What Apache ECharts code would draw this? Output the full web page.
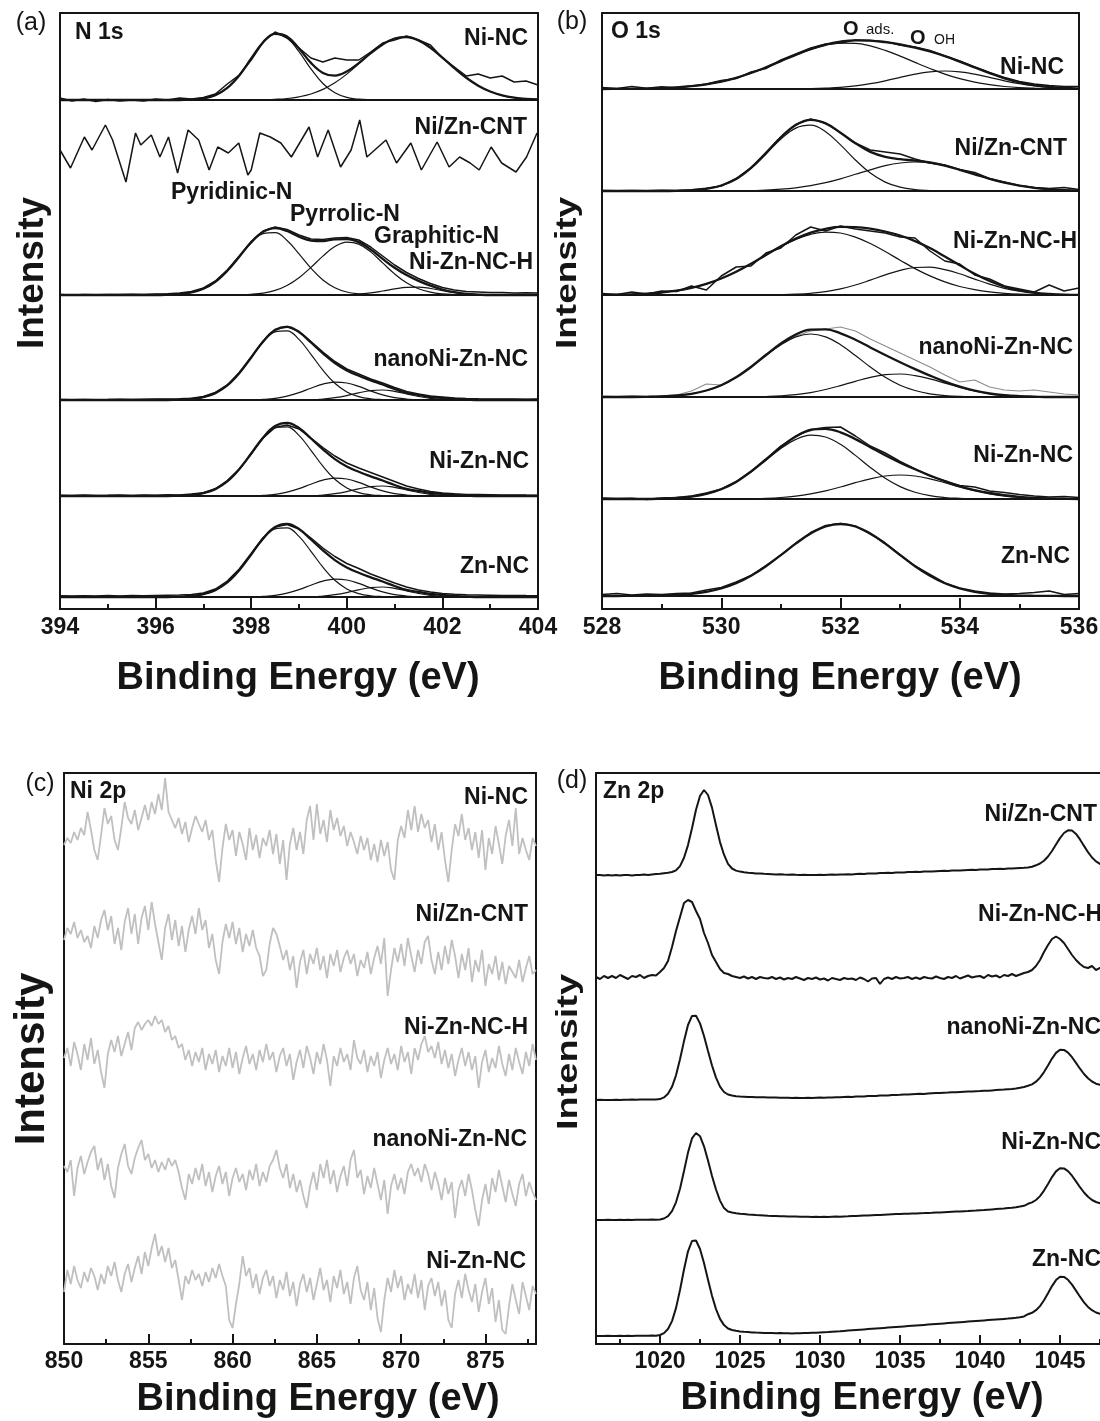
<!DOCTYPE html>
<html><head><meta charset="utf-8">
<script src="https://cdn.jsdelivr.net/npm/echarts@6/dist/echarts.min.js"></script>
<style>html,body{margin:0;padding:0;background:#fff}#chart{width:1100px;height:1421px}</style>
</head><body><div id="chart"></div>
<script>
// ================= DATA =================
// ---- (a) N 1s ----
const A_ENERGY = [394,394.25,394.5,394.75,395,395.25,395.5,395.75,396,396.25,396.5,396.75,397,397.25,397.5,397.75,398,398.25,398.5,398.75,399,399.25,399.5,399.75,400,400.25,400.5,400.75,401,401.25,401.5,401.75,402,402.25,402.5,402.75,403,403.25,403.5,403.75,404];
const A_NINC_RAW = [2,-1,1,-1.5, 0.5,-1,0,-1, 1,0,2,1, 2.5,6,16,25, 40,58,68,62, 52,42,38,42, 40,40,48,57, 60,64,60,55, 42,33,24,26, 22,24,18,19, 15];
const A_NINC_FIT = [0,0,0,0, 0,0,0,0, 0,0,0,0.5, 1.6,4.9,12.1,24.6, 41.5,57.8,66.4,63.6, 51.5,37.1,27.1,24.4, 28.5,36.9,46.8,55.6, 61.5,63,59.6,52.3, 42.4,31.9,22.2,14.3, 8.5,4.7,2.4,1.1, 0.5];
const A_NINC_C1 = [0,0,0,0, 0,0,0,0, 0,0,0,0.5, 1.6,4.9,12.1,24.6, 41.4,57.5,65.7,62.1, 48.3,31.1,16.5,7.2, 2.6,0.8,0.2,0, 0,0,0,0, 0,0,0,0, 0,0,0,0, 0];
const A_NINC_C2 = [0,0,0,0, 0,0,0,0, 0,0,0,0, 0,0,0,0, 0.1,0.3,0.7,1.5, 3.2,6.0,10.6,17.2, 25.9,36.1,46.6,55.6, 61.5,63,59.6,52.3, 42.4,31.9,22.2,14.3, 8.5,4.7,2.4,1.1, 0.5];
const A_CNT_E = [394.0,394.22,394.51,394.67,394.95,395.10,395.38,395.58,395.69,395.91,396.09,396.27,396.46,396.68,396.90,397.12,397.30,397.52,397.74,397.93,398.0,398.18,398.40,398.62,398.84,399.21,399.39,399.61,399.87,400.09,400.27,400.42,400.82,401.04,401.34,401.56,401.89,402.14,402.36,402.58,402.77,403.02,403.24,403.54,403.76,403.98];
const A_CNT_V = [40,22,53,40,65,50,8,57,45,55, 33,53,17,60,50,20,43,37,47,15, 20,57,53,47,33,63,33,60,23,40, 70,33,50,27,47,20,48,23,33,27, 20,43,27,18,33,57];
const A_H_RAW = [0.5,0,0.5,0.3, 0.6,0.4,0.8,0.6, 1,1.2,2,3.5, 7,14,25,39, 53.5,64,68,65.5, 60,56,55.5,57, 57.5,55,48,39, 30,22.5,16.5,11.5, 7.5,5,3.5,3, 2.5,2.5,2,2.2, 2];
const A_H_FIT = [0,0,0,0, 0,0,0,0, 0,0.3,0.9,2.5, 6.2,13.2,24.2,38.2, 52.8,63.2,66.9,64.0, 58.3,54.4,53.9,55.7, 55.9,52.9,45.5,36.1, 27.2,19.9,14.1,9.3, 5.5,2.8,1.1,0.4, 0,0,0,0, 0];
const A_H_PYRIDINIC = [0,0,0,0, 0,0,0,0, 0,0.3,0.9,2.5, 6.2,13.2,24.2,38.2, 52.1,61.3,62.3,54.5, 41.1,26.8,15.0,7.3, 3.0,1.1,0.3,0, 0,0,0,0, 0,0,0,0, 0,0,0,0, 0];
const A_H_PYRROLIC = [0,0,0,0, 0,0,0,0, 0,0,0,0, 0,0,0,0.3, 0.7,1.9,4.6,9.5, 17.2,27.6,38.9,48.4, 52.9,50.9,43.1,32.1, 21.1,12.2,6.2,2.8, 1.1,0.4,0,0, 0,0,0,0, 0];
const A_H_GRAPHITIC = [0,0,0,0, 0,0,0,0, 0,0,0,0, 0,0,0,0, 0,0,0,0, 0,0,0,0, 0,0.9,2.1,4.0, 6.1,7.7,7.9,6.5, 4.4,2.4,1.1,0.4, 0,0,0,0, 0];
const A_FIT_MAIN = [0,0,0,0, 0,0,0,0, 0,0,0.3,1.0, 2.8,6.9,14.6,26.8, 42.5,58.0,68.2,69.2, 60.6,45.7,29.8,16.7, 8.1,3.4,1.2,0.4, 0,0,0,0, 0,0,0,0, 0,0,0,0, 0];
const A_FIT_C2 = [0,0,0,0, 0,0,0,0, 0,0,0,0, 0,0,0,0, 0,0.6,1.7,3.9, 7.4,11.8,15.9,17.9, 17.0,13.6,9.1,5.1, 2.4,1.0,0,0, 0,0,0,0, 0,0,0,0, 0];
const A_FIT_C3 = [0,0,0,0, 0,0,0,0, 0,0,0,0, 0,0,0,0, 0,0,0,0, 0,0,0.9,2.3, 4.4,7.2,9.4,10.0, 8.6,6.1,3.5,1.6, 0.6,0,0,0, 0,0,0,0, 0];
const A_FIT_ENV = [0,0,0,0, 0,0,0,0, 0,0,0.3,1.0, 2.8,6.9,14.6,26.8, 42.5,58.6,69.9,73.1, 68.0,57.5,46.6,36.9, 29.5,24.2,19.7,15.5, 11.0,7.1,5.0,3.0, 2.0,1.0,0.5,0, 0,0,0,0, 0];
const A_NANO_RAW = [0.5,0.2,0.6,0.3, 0.5,0.8,0.4,0.7, 0.9,1.0,1.2,1.8, 3.5,7.5,15,27.5, 43,59,70.5,73.5, 68.5,58.5,48,38.5, 31,26,21,17, 12.5,8.5,6,4, 3,2,1.5,1.2, 1,0.9,1,0.8, 1];
const A_NIZN_RAW = [0.8,0.4,0.9,0.5, 0.7,1.0,0.6,1.1, 0.8,1.2,1.1,1.9, 3.2,7.2,15.5,27, 42,58,68.5,71, 67,58,48.5,40, 33,28,23.5,19, 14.5,10,7,4.5, 3,2.2,1.6,1.4, 1.2,1,1.1,0.9, 0.8];
const A_ZN_RAW = [1.2,0.9,1.3,1.0, 1.4,1.1,1.5,1.2, 1.6,1.8,2.0,2.5, 4,8,16,28, 43.5,59.5,70,72.5, 68,59,49,40.5, 33.5,28.5,23,18.5, 14,10,7,5, 3.5,2.8,2.2,2, 1.8,1.5,1.6,1.4, 1.3];

// ---- (b) O 1s ----
const B_ENERGY = [528,528.25,528.5,528.75,529,529.25,529.5,529.75,530,530.25,530.5,530.75,531,531.25,531.5,531.75,532,532.25,532.5,532.75,533,533.25,533.5,533.75,534,534.25,534.5,534.75,535,535.25,535.5,535.75,536];
const B_NINC_RAW = [1.5,0.5,2.5,0.8, 2.2,1.0,3,5, 8.5,10.5,17,20.5, 29,35,41,45, 46,49,48.5,47.5, 44,42,38.5,33, 28,22,16.5,11.5, 7.5,5,3.5,2.5, 2.5];
const B_NINC_ENV = [0,0.1,0.2,0.4, 0.9,1.6,2.8,4.7, 7.4,11.2,16.0,21.7, 27.9,34.1,39.9,44.5, 47.4,48.7,48.4,46.8, 44.5,41.4,37.6,32.9, 27.4,21.6,15.9,10.7, 6.7,3.9,2.0,1.0, 0.4];
const B_NINC_OADS = [0,0.1,0.2,0.4, 0.9,1.6,2.8,4.7, 7.4,11.2,16.0,21.7, 27.9,34.1,39.6,43.7, 45.8,45.6,43.1,38.6, 32.9,26.6,20.5,14.9, 10.3,6.8,4.3,2.5, 1.4,0.8,0.4,0.2, 0.1];
const B_NINC_OH = [0,0,0,0, 0,0,0,0, 0,0,0,0, 0,0,0.3,0.8, 1.6,3.1,5.3,8.2, 11.6,14.8,17.1,18.0, 17.1,14.8,11.6,8.2, 5.3,3.1,1.6,0.8, 0.3];
const B_CNT_RAW = [0.5,0.2,0.6,0.3, 0.8,0.6,1.2,2.8, 5,12.5,23.5,38.5, 54,66.5,72,68, 58,48,41,39, 37,32,28,26, 21.5,18.5,12.5,9, 5.5,3.5,2.5,3.5, 1.5];
const B_CNT_ENV = [0,0,0,0, 0,0.2,0.7,2.2, 5.5,12.0,23.1,37.9, 53.7,66.1,71.1,67.6, 58.3,47.7,39.1,34.2, 31.8,30.4,28.5,25.3, 21.2,16.7,12.2,8.3, 5.3,3.2,1.8,0.9, 0.4];
const B_CNT_OADS = [0,0,0,0, 0,0.2,0.7,2.2, 5.5,12.0,22.7,37.0, 51.9,62.9,65.8,59.3, 46.1,31.0,17.9,8.9, 3.8,1.4,0.5,0, 0,0,0,0, 0,0,0,0, 0];
const B_CNT_OH = [0,0,0,0, 0,0,0,0, 0,0,0.4,0.9, 1.8,3.2,5.3,8.3, 12.2,16.7,21.2,25.3, 28.0,29.0,28.0,25.3, 21.2,16.7,12.2,8.3, 5.3,3.2,1.8,0.9, 0.4];
const B_H_RAW = [1.5,0.5,3,1, 4,3.5,9,5, 19,28,29,42, 47,60,68,64, 69,66,64,62, 58,57,44,34, 31,20,16,9, 6,3,10,4, 7];
const B_H_ENV = [0.2,0.3,0.7,1.3, 2.5,4.3,7.1,11.1, 16.5,23.3,31.3,40.0, 48.7,56.4,62.4,66.2, 68.1,67.9,66.4,63.5, 59.5,53.9,46.9,38.5, 29.7,21.2,14.0,8.4, 4.7,2.4,1.1,0.4, 0.2];
const B_H_OADS = [0.2,0.3,0.7,1.3, 2.5,4.3,7.1,11.1, 16.5,23.3,31.3,40.0, 48.4,55.6,60.7,62.9, 62.0,57.9,51.5,43.4, 34.8,26.4,19.1,13.1, 8.5,5.3,3.1,1.7, 0.9,0.5,0.2,0, 0];
const B_H_OH = [0,0,0,0, 0,0,0,0, 0,0,0,0, 0.3,0.8,1.7,3.3, 6.1,10.0,14.9,20.1, 24.7,27.5,27.8,25.4, 21.2,15.9,10.9,6.7, 3.8,1.9,0.9,0.4, 0.2];
const B_NANO_RAW = [1,0.5,1.5,0.8, 1.2,2,6,13, 12,20,31,43, 52,61,66,68, 70,66,58,51, 44,37,30,22, 15,17,10,7, 6,7,5,3, 2];
const B_NANO_ENV = [0,0,0,0.2, 0.6,1.5,3.2,6.5, 11.8,19.7,30.0,42.0, 53.5,62.5,67.4,67.6, 63.7,57.2,49.6,42.0, 34.8,27.9,21.4,15.4, 10.3,6.3,3.5,1.8, 0.9,0.4,0,0, 0];
const B_NANO_OADS = [0,0,0,0.2, 0.6,1.5,3.2,6.5, 11.8,19.7,30.0,41.5, 52.3,60.1,63.0,60.1, 52.3,41.5,30.0,19.7, 11.8,6.5,3.2,1.5, 0.6,0.2,0,0, 0,0,0,0, 0];
const B_NANO_OH = [0,0,0,0, 0,0,0,0, 0,0,0,0.5, 1.2,2.4,4.4,7.5, 11.4,15.7,19.6,22.3, 23.0,21.4,18.2,13.9, 9.7,6.1,3.5,1.8, 0.9,0.4,0,0, 0];
const B_NIZN_RAW = [1,0.5,0.8,-0.5, 1,1.5,3,6, 10,17.5,28,40, 53,63,69.5,71.5, 72,63,53,46, 37.5,30,23,18, 13.5,12,8,6.5, 4.5,3,2,2.5, 1.5];
const B_NIZN_ENV = [0,0,0,0, 0.4,1.0,2.4,5.1, 9.8,17.1,27.4,39.5, 52.0,62.5,69.0,70.1, 66.7,59.9,51.8,43.8, 36.4,29.7,23.5,17.8, 12.6,9.0,6.0,3.8, 2.2,1.2,0.6,0.3, 0];
const B_NIZN_OADS = [0,0,0,0, 0.4,1.0,2.4,5.1, 9.8,17.1,27.1,38.8, 50.5,59.6,63.9,62.0, 54.7,43.6,31.6,20.8, 12.4,6.7,3.3,1.5, 0.6,0,0,0, 0,0,0,0, 0];
const B_NIZN_OH = [0,0,0,0, 0,0,0,0, 0,0,0.3,0.7, 1.5,2.9,5.1,8.1, 12.0,16.3,20.2,23.0, 24.0,23.0,20.2,16.3, 12.0,8.1,5.1,2.9, 1.5,0.7,0.3,0, 0];
const B_ZN_RAW = [1.5,2.5,1,2, 1.5,2.5,3,6, 8.5,14,20.5,30.5, 41,53,63.5,70.5, 72.5,70,62,53, 41.5,30,21.5,13, 8,5,3,2, 2.5,3.5,5,1.5, 2.5];
const B_ZN_FIT = [0,0,0.1,0.2, 0.4,1.0,2.1,4.1, 7.5,12.7,20.2,29.7, 40.9,52.4,62.5,69.5, 72.0,69.5,62.5,52.4, 40.9,29.7,20.2,12.7, 7.5,4.1,2.1,1.0, 0.4,0.2,0.1,0, 0];

// ---- (c) Ni 2p ----
const C_ENERGY = [850,850.2,850.4,850.6,850.8,851,851.2,851.4,851.6,851.8,852,852.2,852.4,852.6,852.8,853,853.2,853.4,853.6,853.8,854,854.2,854.4,854.6,854.8,855,855.2,855.4,855.6,855.8,856,856.2,856.4,856.6,856.8,857,857.2,857.4,857.6,857.8,858,858.2,858.4,858.6,858.8,859,859.2,859.4,859.6,859.8,860,860.2,860.4,860.6,860.8,861,861.2,861.4,861.6,861.8,862,862.2,862.4,862.6,862.8,863,863.2,863.4,863.6,863.8,864,864.2,864.4,864.6,864.8,865,865.2,865.4,865.6,865.8,866,866.2,866.4,866.6,866.8,867,867.2,867.4,867.6,867.8,868,868.2,868.4,868.6,868.8,869,869.2,869.4,869.6,869.8,870,870.2,870.4,870.6,870.8,871,871.2,871.4,871.6,871.8,872,872.2,872.4,872.6,872.8,873,873.2,873.4,873.6,873.8,874,874.2,874.4,874.6,874.8,875,875.2,875.4,875.6,875.8,876,876.2,876.4,876.6,876.8,877,877.2,877.4,877.6,877.8,878];
const C_NINC = [45,52,47,58,50, 62,55,78,60,40, 30,55,82,66,74, 50,40,62,88,72, 66,80,60,72,85, 70,88,76,96,80, 112,78,70,62,72, 56,68,48,62,74, 66,58,70,50,60, 30,8,42,66,50, 60,34,58,46,30, 62,40,55,32,52, 44,60,36,56,26, 50,10,46,62,40, 58,36,70,84,50, 86,56,70,48,80, 60,72,54,64,44, 58,48,36,54,40, 52,30,46,28,50, 34,48,20,10,50, 64,52,80,60,84, 58,76,62,70,48, 66,40,58,30,8, 40,66,54,76,50, 62,40,58,32,60, 20,52,36,64,46, 26,54,70,44,82, 36,52,40,30,52, 44];
const C_CNT = [60,72,66,78,62, 70,58,64,52,74, 62,80,90,70,84, 56,72,50,78,92, 66,86,56,82,94, 70,98,76,58,40, 72,86,60,80,54, 74,48,70,84,66, 92,70,80,52,66, 40,26,58,76,62, 78,56,72,48,66, 54,70,52,44,24, 30,56,72,66,54, 40,50,30,44,12, 38,50,26,46,36, 52,30,44,22,46, 34,50,28,42,50, 36,46,24,40,32, 48,26,42,54,36, 62,4,30,52,38, 56,34,62,44,28, 50,36,58,64,40, 26,48,30,54,36, 60,44,22,46,30, 52,18,40,28,50, 14,36,26,44,20, 38,16,34,28,22, 40,18,32,44,26, 30];
const C_H = [52,62,44,68,56, 40,66,50,72,46, 60,38,22,56,70, 58,74,54,66,78, 60,82,88,80,86, 90,84,94,86,90, 78,84,70,74,62, 66,50,60,44,58, 48,62,40,56,46, 60,38,54,44,62, 42,58,36,52,64, 46,56,40,60,48, 66,50,58,38,54, 62,44,56,30,48, 60,42,64,52,36, 58,46,66,50,24, 54,44,62,48,56, 40,70,52,46,60, 38,54,44,58,32, 50,62,46,56,40, 64,48,58,36,62, 50,66,74,58,64, 52,68,46,60,42, 56,34,50,62,44, 58,40,54,22,48, 60,38,52,42,64, 46,34,56,40,62, 48,36,58,44,66, 50];
const C_NANO = [64,58,70,34,62, 74,56,68,78,84, 60,72,50,66,44, 32,62,76,86,64, 56,72,82,90,70, 76,62,70,58,68, 60,72,64,70,58, 42,30,56,46,62, 50,66,44,58,38, 54,64,46,58,34, 52,62,48,56,40, 60,50,66,44,58, 48,64,70,80,62, 52,66,42,56,38, 50,34,22,44,58, 40,66,52,70,46, 60,38,54,64,44, 70,80,52,60,36, 54,42,62,46,30, 50,16,44,56,40, 52,36,58,66,54, 62,48,66,56,40, 58,46,30,52,36, 48,12,40,50,34, 56,40,20,4,30, 46,26,52,38,60, 44,28,50,36,24, 46,56,34,48,38, 30];
const C_NIZN = [48,70,56,74,60, 52,68,58,72,64, 50,66,56,74,64, 78,60,48,66,76, 58,72,84,66,88, 74,92,106,84,94, 78,92,72,80,60, 40,64,56,70,60, 66,54,68,58,72, 62,76,64,54,20, 12,36,56,84,64, 72,52,66,46,62, 70,54,64,42,60, 50,68,44,58,34, 56,66,48,62,40, 56,72,50,60,38, 64,52,70,46,58, 36,62,74,50,40, 58,30,52,22,8, 40,62,48,70,52, 64,40,56,46,66, 42,60,30,54,62, 44,58,34,50,20, 12,46,60,42,66, 50,38,56,28,48, 62,36,52,18,40, 10,6,34,56,40, 26,58,44,30,54, 46];

// ---- (d) Zn 2p ----
const D_ENERGY = [1016,1016.25,1016.5,1016.75,1017,1017.25,1017.5,1017.75,1018,1018.25,1018.5,1018.75,1019,1019.25,1019.5,1019.75,1020,1020.25,1020.5,1020.75,1021,1021.25,1021.5,1021.75,1022,1022.25,1022.5,1022.75,1023,1023.25,1023.5,1023.75,1024,1024.25,1024.5,1024.75,1025,1025.25,1025.5,1025.75,1026,1026.25,1026.5,1026.75,1027,1027.25,1027.5,1027.75,1028,1028.25,1028.5,1028.75,1029,1029.25,1029.5,1029.75,1030,1030.25,1030.5,1030.75,1031,1031.25,1031.5,1031.75,1032,1032.25,1032.5,1032.75,1033,1033.25,1033.5,1033.75,1034,1034.25,1034.5,1034.75,1035,1035.25,1035.5,1035.75,1036,1036.25,1036.5,1036.75,1037,1037.25,1037.5,1037.75,1038,1038.25,1038.5,1038.75,1039,1039.25,1039.5,1039.75,1040,1040.25,1040.5,1040.75,1041,1041.25,1041.5,1041.75,1042,1042.25,1042.5,1042.75,1043,1043.25,1043.5,1043.75,1044,1044.25,1044.5,1044.75,1045,1045.25,1045.5,1045.75,1046,1046.25,1046.5,1046.75,1047,1047.25,1047.5,1047.75,1048];
const D_CNT = [5,5,4.5,5, 4.5,5,4.5,5, 5,4.5,5,5, 5.5,5,5.5,6, 6.3,6.8,7.2,8.0, 9.7,13.9,22.3,34.9, 51.7,70.2,84.0,90, 85.0,72.4,54.7,37.9, 25.3,16.1,11.5,9.4, 8.4,7.7,7.3,7.0, 6.6,6.5,6.2,6.0, 5.8,5.6,5.7,5.4, 5.3,5.5,5.2,5.0, 5.2,4.9,5.1,5.0, 5.2,5.0,5.3,5.4, 5.2,5.6,5.5,5.8, 5.6,6.0,6.2,6.0, 6.4,6.6,6.5,6.9, 7.0,7.2,7.0,7.5, 7.6,7.4,7.9,8.0, 8.2,8.0,8.5,8.6, 8.4,8.8,9.0,9.2, 9.0,9.5,9.6,9.4, 9.8,10.0,10.2,10.0, 10.4,10.6,10.5,10.9, 11.0,11.2,11.0,11.5, 11.6,11.8,12.0,12.2, 12.6,13.2,14.7,16.5, 19.3,23.5,29.0,35.5, 41.9,47.0,49.7,49.4, 46.1,40.6,34.1,27.8, 22.5,18.6,16.0,14.5, 13.8];
const D_H = [8,6,9,7, 9,7,10,8, 6,9,8,10, 7,9,10,9.5, 13,17,24,38, 54,68,82,85, 83,74,66,52, 42,30,23,16, 12,11,9,8, 7,8.5,6.5,8, 6,8,7,6.5, 8,6,7.5,5.5, 7,6,8,6.5, 5,7,6,7.5, 5.5,6.5,4.5,7, 6,5,7,6, 6.5,5,7.5,6, 3.5,6.5,7,1, 6,7.5,6,8, 6.5,7,8,6, 7.5,6,8,7, 6.5,8.5,7,6, 8,7,9,6.5, 8,9.5,7.5,8.5, 9,7,10,8.5, 9.5,7.5,10,9, 11,9,10.5,12, 13,15,19,25, 33,40,46,48.5, 46,42,36,30, 25,21,18,17, 19,15,17,15, 14];
const D_NANO = [5,5.2,4.9,5.1, 5,5.2,5.1,5.3, 5.2,5.4,5.3,5.5, 5.4,5.6,5.5,5.6, 5.9,7.6,11.2,18.2, 29.7,45.7,63.9,80, 89.1,89.2,81.6,69, 54,39.5,27.4,18.4, 13,10.5,9.5,8.8, 8.4,8.2,8.0,7.9, 7.8,7.7,7.7,7.5, 7.4,7.5,7.3,7.2, 7.3,7.1,7.2,7.0, 7.1,7.2,7.0,7.3, 7.4,7.3,7.6,7.5, 7.8,7.7,8.0,8.2, 8.1,8.4,8.6,8.5, 8.9,9.1,9.0,9.4, 9.6,9.5,9.9,10.1, 10.2,10.5,10.4,10.8, 11.0,11.2,11.1,11.5, 11.8,12.0,11.9,12.3, 12.5,12.8,12.7,13.0, 13.3,13.5,13.4,13.8, 14.0,14.3,14.2,14.6, 14.9,15.2,15.4,15.8, 16.1,16.6,17.2,18.0, 19.2,20.6,23.3,27.4, 32.9,39.6,46.4,52.1, 55.2,55.1,52.4,47.8, 42.1,36.3,31,26.7, 23.5,21.3,20.2,19.6, 19.2];
const D_NIZN = [5,5.1,4.9,5.2, 5,5.1,5.2,5.0, 5.2,5.1,5.3,5.2, 5.3,5.2,5.4,5.3, 5.5,6.5,8.8,13.8, 22.7,36.3,54,72.4, 86.6,92,88.8,78.7, 64.4,49,35.5,24.4, 16.9,13.5,12.5,11.8, 11.3,11.0,10.6,10.3, 10.0,9.8,9.6,9.3, 9.1,9.0,8.8,8.7, 8.5,8.4,8.5,8.3, 8.2,8.3,8.1,8.2, 8.0,8.2,8.1,8.3, 8.4,8.3,8.6,8.7, 8.9,9.0,9.2,9.4, 9.6,9.8,10.0,10.1, 10.3,10.5,10.7,10.9, 11.0,11.2,11.3,11.5, 11.6,11.8,11.9,12.1, 12.2,12.4,12.6,12.8, 13.0,13.2,13.4,13.6, 13.8,14.0,14.3,14.5, 14.8,15.0,15.3,15.6, 15.9,16.2,16.5,16.9, 17.3,17.8,18.4,19.2, 21.2,22.6,25,28.9, 34.4,41.1,47.9,53.6, 56.7,56.6,53.9,49.3, 43.6,37.8,32.5,28.2, 25,23.0,21.8,21.2, 20.8];
const D_ZN = [4,4.1,3.9,4.2, 4.0,4.1,4.2,4.1, 4.2,4.1,4.3,4.2, 4.3,4.2,4.4,4.3, 5.0,6.9,11.0,18.9, 31.9,50,70.5,88.7, 99,99.5,91,77, 60.3,44.2,30.9,21.1, 14.9,11.5,10.0,9.2, 8.6,8.2,7.9,7.6, 7.4,7.3,7.1,7.0, 6.9,6.8,6.9,6.7, 6.8,6.6,6.7,6.8, 6.9,7.0,7.2,7.3, 7.6,7.8,8.0,8.3, 8.6,8.8,9.1,9.4, 9.7,10.0,10.3,10.6, 10.9,11.2,11.5,11.8, 12.1,12.4,12.7,13.0, 13.3,13.6,13.9,14.2, 14.5,14.8,15.1,15.4, 15.7,16.0,16.3,16.6, 16.9,17.2,17.5,17.8, 18.1,18.4,18.7,19.0, 19.3,19.6,19.9,20.2, 20.5,20.8,21.1,21.4, 21.8,22.2,22.8,23.6, 25.8,27.2,29.8,33.9, 39.7,46.7,53.9,59.9, 63.2,63.1,60.2,55.4, 49.4,43.3,37.7,33.1, 29.8,27.5,26.2,25.4, 25.0];

// ================= BUILD =================
const INK = '#151515';
const FONT = '"Liberation Sans", Arial, Helvetica, sans-serif';
const grids = [], xAxes = [], yAxes = [], series = [], texts = [];
const off = () => ({show: false});
function addGrid(rect, x, y) {
  const gi = grids.length;
  grids.push(Object.assign({containLabel: false, outerBoundsMode: 'none'}, rect));
  xAxes.push(Object.assign({type: 'value', gridIndex: gi}, x));
  yAxes.push(Object.assign({type: 'value', gridIndex: gi}, y));
  return gi;
}
function axLine(w) { return {show: true, onZero: false, lineStyle: {color: INK, width: w}}; }
function frame(p) {
  const r = {left: p.left, width: p.width, top: p.top, height: p.bottom - p.top};
  addGrid(r, {min: p.min, max: p.max, position: 'bottom', axisLine: axLine(2), axisTick: off(), axisLabel: off(), splitLine: off()},
             {min: 0, max: 1, position: 'left', axisLine: axLine(2), axisTick: off(), axisLabel: off(), splitLine: off()});
  addGrid(r, {min: p.min, max: p.max, position: 'top', axisLine: axLine(2), axisTick: off(), axisLabel: off(), splitLine: off()},
             {min: 0, max: 1, position: 'right', axisLine: axLine(2), axisTick: off(), axisLabel: off(), splitLine: off()});
}
function tickRow(p, left, width, min, max, interval, len, labels) {
  addGrid({left, width, top: p.top, height: p.bottom - p.top},
    {min, max, interval, position: 'bottom', axisLine: {show: false, onZero: false},
     axisTick: {show: true, inside: true, length: len, lineStyle: {color: INK, width: 2}},
     axisLabel: labels ? {show: true, margin: p.labelMargin, color: INK, fontFamily: FONT, fontWeight: 'bold', fontSize: 23, formatter: v => String(v)} : off(),
     splitLine: off()},
    {show: false, min: 0, max: 1, splitLine: off()});
}
function dataGrid(p, base, sep) {
  return addGrid({left: p.left, width: p.width, top: base - 100, height: 100},
    {min: p.min, max: p.max, show: true, axisLine: sep ? axLine(1.9) : {show: false, onZero: false}, axisTick: off(), axisLabel: off(), splitLine: off()},
    {show: false, min: 0, max: 100, splitLine: off()});
}
function plot(gi, E, V, o) {
  o = o || {};
  series.push({type: 'line', xAxisIndex: gi, yAxisIndex: gi, data: E.map((e, i) => [e, V[i]]),
    symbol: 'none', showSymbol: false, smooth: o.smooth || false, clip: false, silent: true, animation: false,
    z: o.z || 2, lineStyle: {color: o.color || INK, width: o.w || 1.3}});
}
const FIT = {smooth: 0.4, w: 2.3, z: 4};
const COMP = {smooth: 0.4, w: 1.2, z: 3};
const RAW = {w: 1.5, z: 2};

// ---- panel (a)
const PA = {left: 60, width: 478, top: 13, bottom: 609, min: 394, max: 404, labelMargin: 7};
frame(PA);
tickRow(PA, PA.left, PA.width, 394, 404, 1, 5, false);
tickRow(PA, PA.left, PA.width, 394, 404, 2, 11, true);
let g = dataGrid(PA, 100, true);
plot(g, A_ENERGY, A_NINC_C1, COMP); plot(g, A_ENERGY, A_NINC_C2, COMP); plot(g, A_ENERGY, A_NINC_RAW, RAW); plot(g, A_ENERGY, A_NINC_FIT, FIT);
g = dataGrid(PA, 190, false);
plot(g, A_CNT_E, A_CNT_V, RAW);
g = dataGrid(PA, 295, true);
plot(g, A_ENERGY, A_H_PYRIDINIC, COMP); plot(g, A_ENERGY, A_H_PYRROLIC, COMP); plot(g, A_ENERGY, A_H_GRAPHITIC, COMP);
plot(g, A_ENERGY, A_H_RAW, RAW); plot(g, A_ENERGY, A_H_FIT, FIT);
[[400, A_NANO_RAW], [496, A_NIZN_RAW], [597, A_ZN_RAW]].forEach(([b, raw]) => {
  const gg = dataGrid(PA, b, true);
  plot(gg, A_ENERGY, A_FIT_MAIN, COMP); plot(gg, A_ENERGY, A_FIT_C2, COMP); plot(gg, A_ENERGY, A_FIT_C3, COMP);
  plot(gg, A_ENERGY, raw, RAW); plot(gg, A_ENERGY, A_FIT_ENV, FIT);
});

// ---- panel (b)
const PB = {left: 602, width: 477, top: 13, bottom: 609, min: 528, max: 536, labelMargin: 7};
frame(PB);
tickRow(PB, PB.left, PB.width, 528, 536, 1, 5, false);
tickRow(PB, PB.left, PB.width, 528, 536, 2, 11, true);
[[89, B_NINC_RAW, B_NINC_ENV, B_NINC_OADS, B_NINC_OH, INK, 1.5],
 [191, B_CNT_RAW, B_CNT_ENV, B_CNT_OADS, B_CNT_OH, INK, 1.5],
 [295, B_H_RAW, B_H_ENV, B_H_OADS, B_H_OH, INK, 1.5],
 [397, B_NANO_RAW, B_NANO_ENV, B_NANO_OADS, B_NANO_OH, '#8c8c8c', 1.1],
 [499, B_NIZN_RAW, B_NIZN_ENV, B_NIZN_OADS, B_NIZN_OH, INK, 1.5]].forEach(([b, raw, env, c1, c2, rc, rw]) => {
  const gg = dataGrid(PB, b, true);
  plot(gg, B_ENERGY, c1, COMP); plot(gg, B_ENERGY, c2, COMP);
  plot(gg, B_ENERGY, raw, {w: rw, color: rc, z: 2}); plot(gg, B_ENERGY, env, FIT);
});
g = dataGrid(PB, 596, true);
plot(g, B_ENERGY, B_ZN_RAW, RAW); plot(g, B_ENERGY, B_ZN_FIT, FIT);

// ---- panel (c)
const PC = {left: 64, width: 472, top: 773, bottom: 1344, min: 850, max: 878, labelMargin: 6};
frame(PC);
tickRow(PC, PC.left, PC.width * 27.5 / 28, 850, 877.5, 2.5, 5, false);
tickRow(PC, PC.left, PC.width * 25 / 28, 850, 875, 5, 10, true);
[[890, C_NINC], [1000, C_CNT], [1110, C_H], [1230, C_NANO], [1340, C_NIZN]].forEach(([b, v]) => {
  const gg = dataGrid(PC, b, false);
  plot(gg, C_ENERGY, v, {w: 1.8, color: '#c0c0c0'});
});

// ---- panel (d)
const PD = {left: 596, width: 512, top: 773, bottom: 1344, min: 1016, max: 1048, labelMargin: 6};
frame(PD);
tickRow(PD, 596 + 1.5 * 16, 30 * 16, 1017.5, 1047.5, 2.5, 5, false);
tickRow(PD, 596 + 4 * 16, 25 * 16, 1020, 1045, 5, 9, true);
[[880, D_CNT], [985, D_H], [1105, D_NANO], [1225, D_NIZN], [1340, D_ZN]].forEach(([b, v]) => {
  const gg = dataGrid(PD, b, false);
  plot(gg, D_ENERGY, v, {w: 2});
});

// ---- texts
function T(text, x, y, o) {
  o = o || {};
  const al = o.align || 'left';
  texts.push({type: 'text', x, y, rotation: o.rot || 0, scaleX: o.sx || 1, scaleY: o.sy || 1, silent: true, z: 50,
    style: {text, x: 0, y: 0, fill: INK, font: (o.wt || 'bold') + ' ' + (o.size || 23) + 'px ' + FONT,
      textAlign: al, align: al, textVerticalAlign: 'middle', verticalAlign: 'middle'}});
}
T('(a)', 31, 23, {wt: 'normal', size: 25, align: 'center'});
T('(b)', 572, 22, {wt: 'normal', size: 25, align: 'center'});
T('(c)', 40, 784, {wt: 'normal', size: 25, align: 'center'});
T('(d)', 572, 781, {wt: 'normal', size: 25, align: 'center'});
T('N 1s', 75, 33); T('O 1s', 611, 32); T('Ni 2p', 70, 792); T('Zn 2p', 603, 792);
[['Ni-NC', 528, 39], ['Ni/Zn-CNT', 527, 128], ['Ni-Zn-NC-H', 533, 263], ['nanoNi-Zn-NC', 528, 360], ['Ni-Zn-NC', 529, 462], ['Zn-NC', 529, 567],
 ['Ni-NC', 1064, 68], ['Ni/Zn-CNT', 1067, 149], ['Ni-Zn-NC-H', 1077, 242], ['nanoNi-Zn-NC', 1073, 348], ['Ni-Zn-NC', 1073, 456], ['Zn-NC', 1070, 557],
 ['Ni-NC', 528, 798], ['Ni/Zn-CNT', 528, 915], ['Ni-Zn-NC-H', 528, 1028], ['nanoNi-Zn-NC', 527, 1140], ['Ni-Zn-NC', 526, 1262],
 ['Ni/Zn-CNT', 1097, 815], ['Ni-Zn-NC-H', 1102, 915], ['nanoNi-Zn-NC', 1101, 1028], ['Ni-Zn-NC', 1101, 1143], ['Zn-NC', 1101, 1260]
].forEach(([t, x, y]) => T(t, x, y, {align: 'right'}));
T('Pyridinic-N', 171, 193); T('Pyrrolic-N', 290, 215); T('Graphitic-N', 374, 237);
T('O', 843, 29, {size: 20}); T('ads.', 866, 30, {wt: 'normal', size: 15});
T('O', 910, 38, {size: 20}); T('OH', 934, 40, {wt: 'normal', size: 14});
T('Binding Energy (eV)', 298, 679, {size: 38, align: 'center'});
T('Binding Energy (eV)', 840, 679, {size: 38, align: 'center'});
T('Binding Energy (eV)', 318, 1400, {size: 38, align: 'center'});
T('Binding Energy (eV)', 862, 1399, {size: 38, align: 'center'});
T('Intensity', 33, 273, {size: 37, align: 'center', rot: Math.PI / 2});
T('Intensity', 568, 273, {size: 37, align: 'center', rot: Math.PI / 2, sy: 0.8});
T('Intensity', 32, 1059, {size: 42, align: 'center', rot: Math.PI / 2});
T('Intensity', 569, 1052, {size: 38, align: 'center', rot: Math.PI / 2, sy: 0.8});

const chart = echarts.init(document.getElementById('chart'), null, {renderer: 'canvas', width: 1100, height: 1421});
chart.setOption({animation: false, backgroundColor: '#fff', grid: grids, xAxis: xAxes, yAxis: yAxes, series, graphic: {elements: texts}});
</script></body></html>
